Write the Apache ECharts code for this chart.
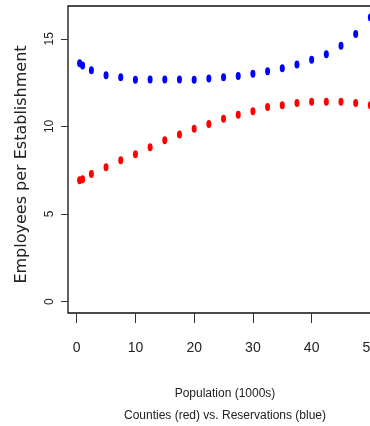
<!DOCTYPE html>
<html>
<head>
<meta charset="utf-8">
<script src="https://cdn.jsdelivr.net/npm/echarts@6/dist/echarts.min.js"></script>
<style>
html,body{margin:0;padding:0;background:#fff;}
#chart{width:370px;height:426px;}
</style>
</head>
<body>
<div id="chart"></div>
<script>
// Population (1000s)
var population = [0.5, 1, 2.5, 5, 7.5, 10, 12.5, 15, 17.5, 20, 22.5, 25, 27.5, 30, 32.5, 35, 37.5, 40, 42.5, 45, 47.5, 50];
// Employees per establishment, counties (red)
var counties = [6.93, 6.98, 7.29, 7.67, 8.07, 8.41, 8.81, 9.21, 9.53, 9.87, 10.14, 10.43, 10.67, 10.87, 11.10, 11.21, 11.34, 11.40, 11.40, 11.40, 11.34, 11.21];
// Employees per establishment, reservations (blue)
var reservations = [13.61, 13.48, 13.21, 12.92, 12.81, 12.66, 12.67, 12.67, 12.67, 12.66, 12.73, 12.81, 12.87, 13.00, 13.15, 13.32, 13.53, 13.80, 14.12, 14.60, 15.27, 16.22];
var xTicks = [0, 10, 20, 30, 40, 50];
var yTicks = [0, 5, 10, 15];

function pairs(xs, ys) {
  return xs.map(function (x, i) { return [x, ys[i]]; });
}

var chart = echarts.init(document.getElementById('chart'), null, {renderer: 'canvas'});
var sans = '"Liberation Sans", Arial, sans-serif';
chart.setOption({
  animation: false,
  backgroundColor: '#ffffff',
  grid: {
    left: 68, top: 6, right: -12, bottom: 113,
    containLabel: false,
    outerBoundsMode: 'none',
    show: true, borderColor: '#111', borderWidth: 1.3, backgroundColor: 'transparent'
  },
  xAxis: {
    type: 'value',
    min: -1.48, max: 51.98,
    splitLine: {show: false},
    axisLine: {show: false, onZero: false},
    axisTick: {show: true, customValues: xTicks, length: 10, lineStyle: {color: '#333', width: 1}},
    axisLabel: {show: true, customValues: xTicks, margin: 28, fontFamily: sans, fontSize: 14, color: '#222'},
    name: 'Population (1000s)\nCounties (red) vs. Reservations (blue)',
    nameLocation: 'middle',
    nameGap: 70,
    nameTextStyle: {fontFamily: sans, fontSize: 12, lineHeight: 22, color: '#222'}
  },
  yAxis: {
    type: 'value',
    min: -0.649, max: 16.87,
    splitLine: {show: false},
    axisLine: {show: false, onZero: false},
    axisTick: {show: true, customValues: yTicks, length: 7, lineStyle: {color: '#333', width: 1}},
    axisLabel: {show: true, customValues: yTicks, rotate: 90, margin: 12, fontFamily: sans, fontSize: 12, color: '#222'},
    name: 'Employees per Establishment',
    nameLocation: 'middle',
    nameGap: 38,
    nameTextStyle: {fontFamily: '"DejaVu Sans", sans-serif', fontSize: 16, color: '#222', padding: [0, 10, 0, 0]}
  },
  series: [
    {
      name: 'Counties',
      type: 'scatter',
      data: pairs(population, counties),
      symbol: 'circle',
      symbolSize: [5, 8],
      itemStyle: {color: '#ff0000', opacity: 1}
    },
    {
      name: 'Reservations',
      type: 'scatter',
      data: pairs(population, reservations),
      symbol: 'circle',
      symbolSize: [5, 8],
      itemStyle: {color: '#0000ff', opacity: 1}
    }
  ]
});
</script>
</body>
</html>
